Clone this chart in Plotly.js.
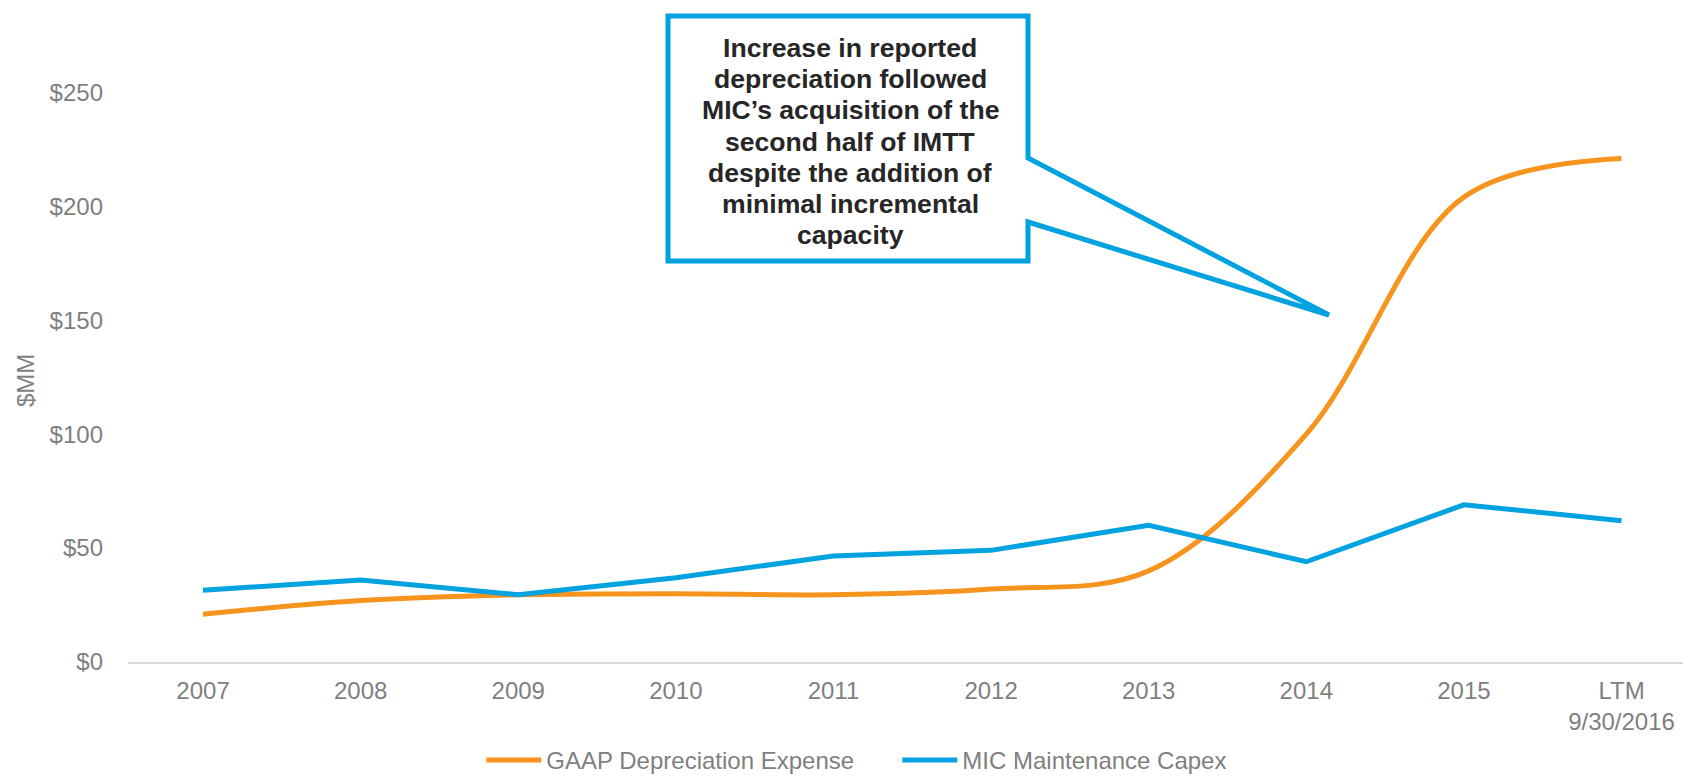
<!DOCTYPE html>
<html>
<head>
<meta charset="utf-8">
<script src="https://cdn.plot.ly/plotly-3.0.1.min.js"></script>
<style>
  html, body { margin: 0; padding: 0; background: #ffffff; }
  #chart { width: 1683px; height: 779px; }
</style>
</head>
<body>
<div id="chart"></div>
<script>
// ---- data ----
var categories = ["2007", "2008", "2009", "2010", "2011", "2012", "2013", "2014", "2015", "LTM<br>9/30/2016"];
var gaapDepreciation = [21, 27, 29.5, 30, 29.5, 32, 40, 100, 204, 221];
var micMaintenanceCapex = [31.5, 36, 29.5, 37, 46.5, 49, 60, 44, 69, 62];
var seriesNames = ["GAAP Depreciation Expense", "MIC Maintenance Capex"];
var yTickValues = [0, 50, 100, 150, 200, 250];
var yTickLabels = ["$0", "$50", "$100", "$150", "$200", "$250"];
var calloutLines = [
  "Increase in reported",
  "depreciation followed",
  "MIC\u2019s acquisition of the",
  "second half of IMTT",
  "despite the addition of",
  "minimal incremental",
  "capacity"
];

// ---- layout geometry (pixels) ----
var W = 1683, H = 779;
var M = { l: 128, r: 0, t: 24, b: 117 };
var PW = W - M.l - M.r, PH = H - M.t - M.b;
function px(x) { return (x - M.l) / PW; }
function py(y) { return (H - M.b - y) / PH; }

var ORANGE = "#F7941D", BLUE = "#00A3E0", GRAY = "#7f7f7f";
var FONT = "Liberation Sans, Arial, sans-serif";

var traces = [
  {
    x: categories, y: gaapDepreciation, name: seriesNames[0],
    type: "scatter", mode: "lines",
    line: { color: ORANGE, width: 5, shape: "spline", smoothing: 1 },
    hoverinfo: "skip"
  },
  {
    x: categories, y: micMaintenanceCapex, name: seriesNames[1],
    type: "scatter", mode: "lines",
    line: { color: BLUE, width: 5 },
    hoverinfo: "skip"
  }
];

// callout box with pointer (pixel vertices -> paper coords)
var calloutPts = [[1028, 158], [1028, 16], [668, 16], [668, 261], [1028, 261], [1028, 222], [1329, 315]];
var pathStr = "";
for (var i = 0; i < calloutPts.length; i++) {
  pathStr += (i === 0 ? "M" : "L") + px(calloutPts[i][0]).toFixed(5) + "," + py(calloutPts[i][1]).toFixed(5) + " ";
}
pathStr += "Z";

var annotations = [];
for (var k = 0; k < calloutLines.length; k++) {
  annotations.push({
    xref: "paper", yref: "paper",
    x: px(850), y: py(48 + k * 31.2),
    xanchor: "center", yanchor: "middle",
    text: "<b>" + calloutLines[k] + "</b>",
    showarrow: false,
    font: { family: FONT, size: 26.6, color: "#262626" }
  });
}
annotations.push({
  xref: "paper", yref: "paper",
  x: px(25), y: py(381),
  xanchor: "center", yanchor: "middle",
  textangle: -90,
  text: "$MM",
  showarrow: false,
  font: { family: FONT, size: 24, color: GRAY }
});

var layout = {
  width: W, height: H,
  margin: M,
  paper_bgcolor: "#ffffff",
  plot_bgcolor: "#ffffff",
  font: { family: FONT, size: 24, color: GRAY },
  showlegend: true,
  legend: {
    orientation: "h",
    xref: "container", yref: "container",
    x: 0.286, xanchor: "left",
    y: 0.024, yanchor: "middle",
    itemwidth: 55,
    entrywidth: 346,
    entrywidthmode: "pixels",
    font: { family: FONT, size: 24, color: GRAY },
    bgcolor: "rgba(0,0,0,0)"
  },
  xaxis: {
    type: "category",
    range: [-0.476, 9.39],
    showgrid: false,
    zeroline: false,
    showline: true,
    linecolor: "#d9d9d9",
    linewidth: 2,
    ticks: "",
    ticklabelstandoff: 6,
    tickfont: { family: FONT, size: 24, color: GRAY },
    fixedrange: true
  },
  yaxis: {
    range: [0, 280],
    tickmode: "array",
    tickvals: yTickValues,
    ticktext: yTickLabels,
    showgrid: false,
    zeroline: false,
    showline: false,
    ticks: "",
    ticklabelstandoff: 24,
    tickfont: { family: FONT, size: 24, color: GRAY },
    fixedrange: true
  },
  shapes: [
    {
      type: "path", xref: "paper", yref: "paper",
      path: pathStr,
      fillcolor: "#ffffff",
      line: { color: BLUE, width: 5 },
      layer: "above"
    }
  ],
  annotations: annotations
};

Plotly.newPlot("chart", traces, layout, { displayModeBar: false, staticPlot: true });
</script>
</body>
</html>
